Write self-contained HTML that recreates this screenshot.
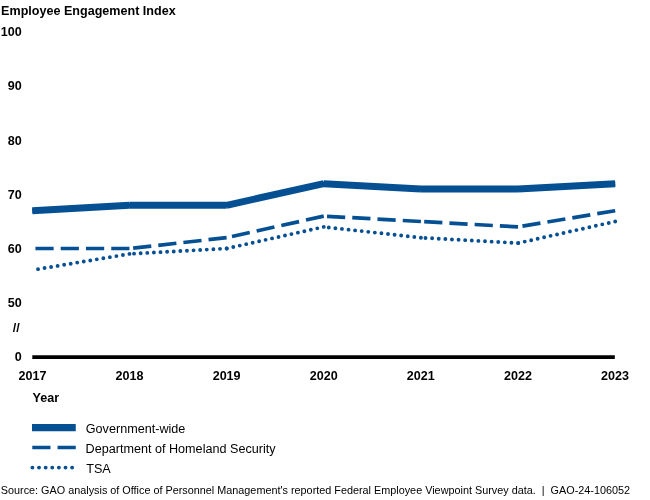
<!DOCTYPE html>
<html><head><meta charset="utf-8"><title>Employee Engagement Index</title>
<style>
html,body{margin:0;padding:0;background:#fff;}
body{width:650px;height:500px;overflow:hidden;position:relative;}
svg{position:absolute;left:0;top:0;display:block;}
text{font-family:"Liberation Sans",Arial,sans-serif;font-size:12.57px;fill:#000;}
.b text{font-weight:bold;}
.l text{font-size:12.62px;}
.l text.s{font-size:10.848px;white-space:pre;}
</style></head><body>
<svg width="650" height="500" viewBox="0 0 650 500">
<line x1="32.3" y1="357.05" x2="614.8" y2="357.05" stroke="#000" stroke-width="3.7"/>
<g stroke="#054f93" fill="none">
<polyline points="32.30,210.70 129.45,205.30 226.60,205.30 323.75,183.70 420.90,189.10 518.05,189.10 615.20,183.70" stroke-width="4.4" stroke-linejoin="bevel"/>
<line x1="615.20" y1="183.70" x2="518.05" y2="189.10" stroke-width="7"/>
<line x1="518.05" y1="189.10" x2="420.90" y2="189.10" stroke-width="7"/>
<line x1="420.90" y1="189.10" x2="323.75" y2="183.70" stroke-width="7"/>
<line x1="323.75" y1="183.70" x2="226.60" y2="205.30" stroke-width="7"/>
<line x1="226.60" y1="205.30" x2="129.45" y2="205.30" stroke-width="7"/>
<line x1="129.45" y1="205.30" x2="32.30" y2="210.70" stroke-width="7"/>
<line x1="615.20" y1="210.70" x2="518.05" y2="226.90" stroke-width="3.7" stroke-dasharray="18.2 7.07"/>
<line x1="518.05" y1="226.90" x2="420.90" y2="221.50" stroke-width="3.7" stroke-dasharray="18.2 7.07"/>
<line x1="420.90" y1="221.50" x2="323.75" y2="216.10" stroke-width="3.7" stroke-dasharray="18.2 7.07"/>
<line x1="323.75" y1="216.10" x2="226.60" y2="237.70" stroke-width="3.7" stroke-dasharray="18.2 7.07"/>
<line x1="226.60" y1="237.70" x2="129.45" y2="248.50" stroke-width="3.7" stroke-dasharray="18.2 7.07"/>
<line x1="129.45" y1="248.50" x2="32.30" y2="248.50" stroke-width="3.7" stroke-dasharray="18.2 7.07"/>
<line x1="615.20" y1="221.50" x2="518.05" y2="243.10" stroke-width="3.9" stroke-linecap="round" stroke-dasharray="0 6.62"/>
<line x1="518.05" y1="243.10" x2="420.90" y2="237.70" stroke-width="3.9" stroke-linecap="round" stroke-dasharray="0 6.62"/>
<line x1="420.90" y1="237.70" x2="323.75" y2="226.90" stroke-width="3.9" stroke-linecap="round" stroke-dasharray="0 6.62"/>
<line x1="323.75" y1="226.90" x2="226.60" y2="248.50" stroke-width="3.9" stroke-linecap="round" stroke-dasharray="0 6.62"/>
<line x1="226.60" y1="248.50" x2="129.45" y2="253.90" stroke-width="3.9" stroke-linecap="round" stroke-dasharray="0 6.62"/>
<line x1="129.45" y1="253.90" x2="32.30" y2="270.10" stroke-width="3.9" stroke-linecap="round" stroke-dasharray="0 6.62"/>
</g>
<g stroke="#054f93" fill="none">
<line x1="32" y1="427.6" x2="75.75" y2="427.6" stroke-width="7.2"/>
<line x1="75.75" y1="447.5" x2="32" y2="447.5" stroke-width="3.7" stroke-dasharray="18.2 7.07"/>
<line x1="32.4" y1="467.6" x2="73" y2="467.6" stroke-width="3.9" stroke-linecap="round" stroke-dasharray="0 6.62"/>
</g>
<g class="b">
<text x="1.1" y="14.8">Employee Engagement Index</text>
<text x="21.8" y="36.00" text-anchor="end">100</text>
<text x="21.8" y="90.32" text-anchor="end">90</text>
<text x="21.8" y="144.64" text-anchor="end">80</text>
<text x="21.8" y="198.96" text-anchor="end">70</text>
<text x="21.8" y="253.28" text-anchor="end">60</text>
<text x="21.8" y="307.00" text-anchor="end">50</text>
<text x="12.85" y="332.2">//</text>
<text x="21.8" y="361.2" text-anchor="end">0</text>
<text x="32.45" y="380.4" text-anchor="middle">2017</text>
<text x="129.54" y="380.4" text-anchor="middle">2018</text>
<text x="226.63" y="380.4" text-anchor="middle">2019</text>
<text x="323.72" y="380.4" text-anchor="middle">2020</text>
<text x="420.81" y="380.4" text-anchor="middle">2021</text>
<text x="517.90" y="380.4" text-anchor="middle">2022</text>
<text x="614.99" y="380.4" text-anchor="middle">2023</text>
<text x="32.6" y="402.2">Year</text>
</g>
<g class="l">
<text x="85.8" y="432.7">Government-wide</text>
<text x="85.6" y="452.7">Department of Homeland Security</text>
<text x="86.2" y="472.7">TSA</text>
<text class="s" x="0.8" y="493.6" xml:space="preserve">Source: GAO analysis of Office of Personnel Management's reported Federal Employee Viewpoint Survey data.  |  GAO-24-106052</text>
</g>
</svg>
</body></html>
